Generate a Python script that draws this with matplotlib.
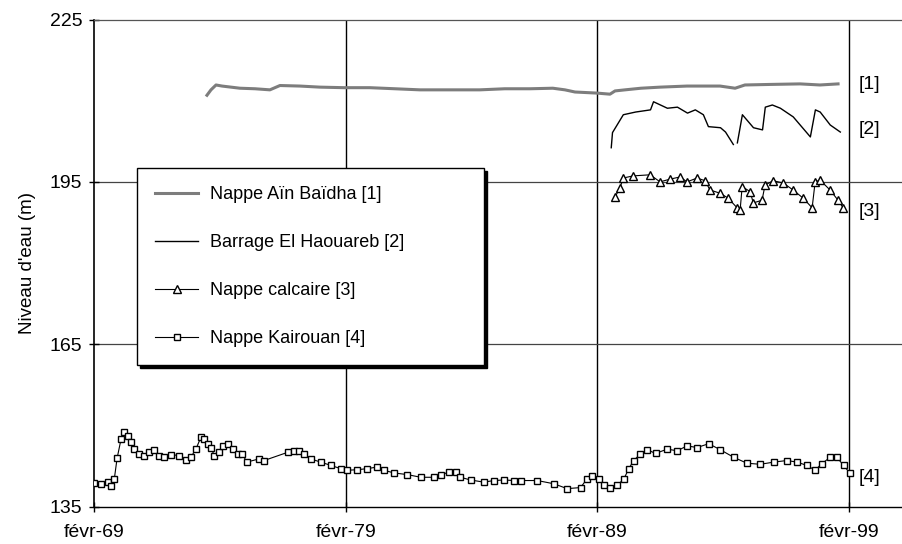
import matplotlib
matplotlib.use('Agg')
import matplotlib.pyplot as plt
import numpy as np

plt.rcParams['font.family'] = ['Liberation Sans', 'DejaVu Sans']

# Nappe Ain Baidha [1]
yr1 = [1973.57, 1973.73, 1973.93, 1974.17, 1974.88, 1975.48, 1976.07, 1976.47, 1977.26, 1978.06,
       1979.01, 1980.04, 1981.04, 1982.03, 1983.22, 1984.41, 1985.40, 1986.40, 1987.31, 1987.79,
       1988.19, 1989.06, 1989.58, 1989.78, 1990.18, 1990.81, 1991.57, 1992.64, 1993.95, 1994.55,
       1994.94, 1995.94, 1997.13, 1997.92, 1998.64]
niv1 = [211.0, 212.0, 212.9, 212.7, 212.3, 212.2, 212.0, 212.8, 212.7, 212.5,
        212.4, 212.4, 212.2, 212.0, 212.0, 212.0, 212.2, 212.2, 212.3, 212.0,
        211.6, 211.4, 211.2, 211.8, 212.0, 212.3, 212.5, 212.7, 212.7, 212.3,
        212.9, 213.0, 213.1, 212.9, 213.1]

# Barrage El Haouareb [2]
yr2 = [1989.63, 1989.68, 1990.11, 1990.60, 1991.19, 1991.31, 1991.86, 1992.26, 1992.66, 1992.97,
       1993.29, 1993.49, 1993.97, 1994.17, 1994.48, 1994.56, 1994.64, 1994.84, 1995.28, 1995.64,
       1995.75, 1996.03, 1996.35, 1996.86, 1997.54, 1997.74, 1997.93, 1998.33, 1998.73]
niv2 = [201.3, 204.1, 207.4, 207.9, 208.3, 209.8, 208.6, 208.8, 207.7, 208.3,
        207.4, 205.2, 205.0, 204.2, 201.9, np.nan, 202.2, 207.4, 205.0, 204.6,
        208.8, 209.2, 208.6, 207.0, 203.3, 208.3, 207.9, 205.5, 204.2]

# Nappe calcaire [3]
yr3 = [1989.78, 1989.98, 1990.10, 1990.50, 1991.17, 1991.57, 1991.97, 1992.36, 1992.64, 1993.04,
       1993.36, 1993.55, 1993.95, 1994.27, 1994.63, 1994.75, 1994.83, 1995.15, 1995.27, 1995.62,
       1995.74, 1996.06, 1996.46, 1996.85, 1997.25, 1997.61, 1997.73, 1997.93, 1998.32, 1998.64,
       1998.84]
niv3 = [192.2, 193.9, 195.7, 196.1, 196.3, 195.0, 195.5, 195.9, 195.0, 195.7,
        195.2, 193.5, 192.9, 192.0, 190.2, 189.8, 194.1, 193.2, 191.1, 191.6,
        194.4, 195.2, 194.8, 193.5, 192.0, 190.2, 195.0, 195.3, 193.5, 191.6,
        190.2]

# Nappe Kairouan [4]
yr4 = [1969.10, 1969.36, 1969.63, 1969.76, 1969.89, 1970.00, 1970.16, 1970.26, 1970.42, 1970.55,
       1970.68, 1970.88, 1971.08, 1971.28, 1971.48, 1971.68, 1971.87, 1972.14, 1972.47, 1972.73,
       1972.93, 1973.13, 1973.33, 1973.46, 1973.60, 1973.73, 1973.86, 1974.06, 1974.19, 1974.39,
       1974.59, 1974.79, 1974.98, 1975.15, 1975.64, 1975.84, 1976.77, 1977.03, 1977.23, 1977.43,
       1977.69, 1978.09, 1978.49, 1978.88, 1979.15, 1979.55, 1979.94, 1980.34, 1980.60, 1981.00,
       1981.53, 1982.06, 1982.59, 1982.85, 1983.18, 1983.45, 1983.64, 1984.04, 1984.57, 1984.97,
       1985.37, 1985.76, 1986.03, 1986.69, 1987.35, 1987.88, 1988.41, 1988.67, 1988.87, 1989.14,
       1989.33, 1989.60, 1989.87, 1990.13, 1990.33, 1990.52, 1990.79, 1991.06, 1991.39, 1991.85,
       1992.25, 1992.64, 1993.04, 1993.50, 1993.96, 1994.49, 1995.02, 1995.55, 1996.08, 1996.61,
       1997.01, 1997.40, 1997.73, 1997.99, 1998.33, 1998.59, 1998.86, 1999.12]
niv4 = [139.3, 139.1, 139.5, 138.7, 140.1, 143.9, 147.5, 148.7, 148.1, 146.9,
        145.6, 144.7, 144.4, 145.0, 145.5, 144.4, 144.1, 144.6, 144.4, 143.6,
        144.1, 145.6, 147.8, 147.5, 146.6, 145.9, 144.4, 145.0, 146.2, 146.6,
        145.6, 144.7, 144.7, 143.2, 143.8, 143.5, 145.0, 145.3, 145.3, 144.7,
        143.8, 143.2, 142.6, 142.0, 141.7, 141.8, 142.0, 142.3, 141.7, 141.2,
        140.9, 140.4, 140.4, 140.9, 141.3, 141.3, 140.4, 139.9, 139.5, 139.8,
        139.9, 139.8, 139.8, 139.8, 139.2, 138.3, 138.5, 140.1, 140.7, 140.1,
        138.9, 138.5, 138.9, 140.1, 142.0, 143.5, 144.7, 145.5, 144.8, 145.6,
        145.3, 146.2, 145.9, 146.6, 145.5, 144.1, 143.0, 142.8, 143.2, 143.5,
        143.2, 142.6, 141.7, 142.9, 144.1, 144.1, 142.6, 141.1]

xticks = [1969.083, 1979.083, 1989.083, 1999.083]
xlabels = ['févr-69', 'févr-79', 'févr-89', 'févr-99']
yticks = [135, 165, 195, 225]
side_labels = ['[1]', '[2]', '[3]', '[4]']
side_y = [212.9, 204.6, 189.6, 140.3]

fig = plt.figure(figsize=(9.02, 5.44), dpi=100)
ax = fig.add_axes([94 / 902, 1 - 506.5 / 544, 1 - 94 / 902, 487 / 544])

ax.plot(yr1, niv1, color='#7d7d7d', lw=2.2, label='Nappe Aïn Baïdha [1]', zorder=3)
ax.plot(yr2, niv2, color='black', lw=1.0, label='Barrage El Haouareb [2]', zorder=3)
ax.plot(yr3, niv3, color='black', lw=0.8, marker='^', ms=5.5, mfc='white', mec='black', mew=1.0,
        label='Nappe calcaire [3]', zorder=3)
ax.plot(yr4, niv4, color='black', lw=0.8, marker='s', ms=5, mfc='white', mec='black', mew=1.0,
        label='Nappe Kairouan [4]', zorder=3)

ax.set_xlim(1969.083, 2001.18)
ax.set_ylim(135, 225)
ax.set_xticks(xticks)
ax.set_xticklabels(xlabels)
ax.set_yticks(yticks)
ax.tick_params(direction='inout', length=7, width=1, labelsize=14, pad=5)
ax.tick_params(axis='x', pad=9)

for x in xticks[1:]:
    ax.axvline(x, color='black', lw=1, zorder=1)
for y in yticks[1:3]:
    ax.axhline(y, color='#444444', lw=0.9, zorder=1)

ax.spines['right'].set_visible(False)
ax.spines['top'].set_color('#555555')
ax.spines['top'].set_linewidth(0.9)
ax.spines['left'].set_linewidth(1.2)
ax.spines['bottom'].set_linewidth(1.0)

ax.set_ylabel("Niveau d'eau (m)", fontsize=13.5, labelpad=10)

for txt, y in zip(side_labels, side_y):
    ax.text(1999.45, y, txt, fontsize=14, va='center', ha='left')

leg = ax.legend(loc='upper left', bbox_to_anchor=(0.0532, 0.303, 0.4295, 0.392), mode='expand',
                fontsize=13, frameon=True, fancybox=False,
                shadow={'color': 'black', 'alpha': 1.0}, borderpad=1.0,
                labelspacing=1.72, handlelength=2.4, handletextpad=0.65, numpoints=1,
                borderaxespad=0)
leg.get_frame().set_edgecolor('black')
leg.get_frame().set_linewidth(1.0)

fig.savefig('out.png', dpi=100)
